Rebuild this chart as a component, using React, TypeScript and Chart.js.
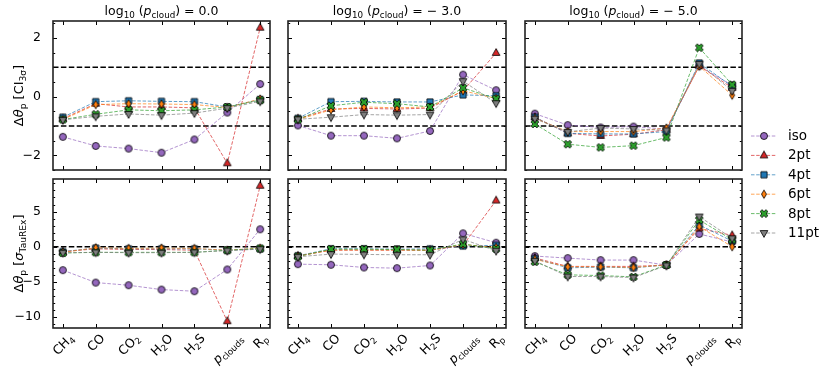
import React, { useEffect, useRef } from 'react';
import { Chart, registerables } from 'chart.js';

Chart.register(...registerables);

// ---------------- DATA ----------------
const categories = ['CH4', 'CO', 'CO2', 'H2O', 'H2S', 'p_clouds', 'R_p'];
const seriesNames = ['iso', '2pt', '4pt', '6pt', '8pt', '11pt'];
const cloudPressureLabels = ['0.0', '\u2212 3.0', '\u2212 5.0'];

// rows: iso, 2pt, 4pt, 6pt, 8pt, 11pt ; columns: categories
const ciCloud0 = [
  [-1.37, -1.68, -1.77, -1.91, -1.46, -0.54, 0.43],
  [-0.75, -0.24, -0.35, -0.35, -0.38, -2.27, 2.35],
  [-0.70, -0.17, -0.14, -0.16, -0.17, -0.35, -0.10],
  [-0.78, -0.27, -0.24, -0.25, -0.27, -0.37, -0.08],
  [-0.78, -0.60, -0.45, -0.48, -0.45, -0.35, -0.12],
  [-0.79, -0.67, -0.59, -0.63, -0.56, -0.39, -0.16],
];
const ciCloud3 = [
  [-0.98, -1.33, -1.33, -1.42, -1.17, 0.75, 0.22],
  [-0.75, -0.42, -0.40, -0.42, -0.39, 0.20, 1.49],
  [-0.74, -0.17, -0.16, -0.18, -0.18, 0.06, 0.03],
  [-0.78, -0.45, -0.35, -0.38, -0.35, 0.20, -0.06],
  [-0.78, -0.31, -0.19, -0.24, -0.35, 0.30, -0.07],
  [-0.77, -0.70, -0.61, -0.63, -0.61, 0.53, -0.22],
];
const ciCloud5 = [
  [-0.58, -0.97, -1.05, -1.02, -1.11, 1.04, 0.39],
  [-0.70, -1.25, -1.34, -1.28, -1.13, 1.05, 0.30],
  [-0.70, -1.25, -1.27, -1.27, -1.19, 1.15, 0.35],
  [-0.74, -1.19, -1.19, -1.19, -1.07, 1.04, 0.05],
  [-0.93, -1.62, -1.73, -1.67, -1.39, 1.67, 0.41],
  [-0.75, -1.20, -1.07, -1.10, -1.15, 1.12, 0.20],
];
const sigmaCloud0 = [
  [-3.33, -5.10, -5.48, -6.10, -6.33, -3.24, 2.48],
  [-0.70, -0.30, -0.40, -0.40, -0.50, -10.6, 8.67],
  [-0.70, -0.20, -0.30, -0.30, -0.30, -0.50, -0.30],
  [-0.80, -0.15, -0.25, -0.20, -0.25, -0.50, -0.20],
  [-0.90, -0.80, -0.80, -0.80, -0.80, -0.50, -0.25],
  [-0.85, -0.80, -0.85, -0.85, -0.80, -0.55, -0.35],
];
const sigmaCloud3 = [
  [-2.48, -2.57, -2.95, -3.05, -2.67, 1.90, 0.57],
  [-1.30, -0.50, -0.50, -0.50, -0.50, 0.20, 6.57],
  [-1.30, -0.30, -0.30, -0.35, -0.30, 0.10, 0.20],
  [-1.35, -0.45, -0.45, -0.45, -0.50, 0.30, -0.10],
  [-1.40, -0.35, -0.35, -0.40, -0.50, 0.40, -0.30],
  [-1.43, -1.05, -1.10, -1.14, -1.14, 1.05, -0.57],
];
const sigmaCloud5 = [
  [-1.33, -1.62, -1.90, -1.90, -2.62, 1.81, 0.67],
  [-1.60, -2.80, -2.80, -2.80, -2.60, 2.60, 1.62],
  [-1.70, -3.00, -2.90, -3.00, -2.60, 3.10, 0.80],
  [-1.80, -2.86, -2.86, -2.95, -2.60, 2.86, 0.00],
  [-2.14, -4.00, -4.10, -4.29, -2.60, 3.80, 1.00],
  [-2.00, -4.24, -4.24, -4.38, -2.67, 4.29, 1.20],
];

const ciTicks = [-2, 0, 2];
const sigmaTicks = [-10, -5, 0, 5];
const ciRefLines = [-1, 1];
const sigmaRefLines = [0];

// ---------------- STYLE ----------------
const W = 830;
const H = 372;
const FONT = "'DejaVu Sans', sans-serif";
const colLeft = [53, 288, 525];
const colRight = [270, 506, 742];
const rowTop = [21, 179];
const rowBottom = [170, 328];
const seriesColors = ['#9467bd', '#d62728', '#1f77b4', '#ff7f0e', '#2ca02c', '#7f7f7f'];
const seriesMarkers = ['circle', 'triangle', 'square', 'thinDiamond', 'filledX', 'triangleDown'];

type Seg = { t: string; sub?: boolean; it?: boolean };

function hexA(hex: string, a: number) {
  const n = parseInt(hex.slice(1), 16);
  return `rgba(${(n >> 16) & 255},${(n >> 8) & 255},${n & 255},${a})`;
}

function setFont(ctx: CanvasRenderingContext2D, size: number, it?: boolean) {
  ctx.font = `${it ? 'italic ' : ''}${size}px ${FONT}`;
}
function richWidth(ctx: CanvasRenderingContext2D, segs: Seg[], size: number) {
  let w = 0;
  for (const s of segs) {
    setFont(ctx, s.sub ? size * 0.7 : size, s.it);
    w += ctx.measureText(s.t).width;
  }
  return w;
}
function drawRich(ctx: CanvasRenderingContext2D, segs: Seg[], x: number, y: number, size: number) {
  let cx = x;
  ctx.textAlign = 'left';
  ctx.textBaseline = 'alphabetic';
  for (const s of segs) {
    const sz = s.sub ? size * 0.7 : size;
    setFont(ctx, sz, s.it);
    ctx.fillText(s.t, cx, s.sub ? y + size * 0.22 : y);
    cx += ctx.measureText(s.t).width;
  }
}
function labelSegs(lbl: string): Seg[] {
  if (lbl.includes('_')) {
    const [a, b] = lbl.split('_');
    return [{ t: a, it: a === 'p' }, { t: b, sub: true }];
  }
  const out: Seg[] = [];
  for (const ch of lbl) {
    const sub = /\d/.test(ch);
    const last = out[out.length - 1];
    if (last && !!last.sub === sub) last.t += ch;
    else out.push({ t: ch, sub });
  }
  return out;
}

function makeMarker(kind: string, color: string): HTMLCanvasElement {
  const c = document.createElement('canvas');
  c.width = 14;
  c.height = 14;
  const g = c.getContext('2d')!;
  g.translate(7, 7);
  g.fillStyle = color;
  g.strokeStyle = '#000';
  g.lineWidth = 0.8;
  g.lineJoin = 'miter';
  g.beginPath();
  if (kind === 'circle') {
    g.arc(0, 0, 3.5, 0, Math.PI * 2);
  } else if (kind === 'triangle' || kind === 'triangleDown') {
    const r = 4.4;
    const s = kind === 'triangle' ? 1 : -1;
    g.moveTo(0, -r * s);
    g.lineTo(r * 0.87, r * 0.55 * s);
    g.lineTo(-r * 0.87, r * 0.55 * s);
    g.closePath();
  } else if (kind === 'square') {
    g.rect(-3.1, -3.1, 6.2, 6.2);
  } else if (kind === 'thinDiamond') {
    g.moveTo(0, -4.2);
    g.lineTo(2.5, 0);
    g.lineTo(0, 4.2);
    g.lineTo(-2.5, 0);
    g.closePath();
  } else if (kind === 'filledX') {
    const a = 1.4;
    const r = 4.1;
    const pts = [
      [-a, -r], [a, -r], [a, -a], [r, -a], [r, a], [a, a],
      [a, r], [-a, r], [-a, a], [-r, a], [-r, -a], [-a, -a],
    ];
    const cs = Math.SQRT1_2;
    pts.forEach(([x, y], i) => {
      const rx = x * cs - y * cs;
      const ry = x * cs + y * cs;
      if (i === 0) g.moveTo(rx, ry);
      else g.lineTo(rx, ry);
    });
    g.closePath();
  }
  g.fill();
  g.stroke();
  return c;
}

const panelData = [
  [ciCloud0, ciCloud3, ciCloud5],
  [sigmaCloud0, sigmaCloud3, sigmaCloud5],
];
const yRanges = [
  [-2.5, 2.58],
  [-11.56, 9.63],
];
const yMajor = [ciTicks, sigmaTicks];
const yMinorStep = [0.5, 1];
const refLines = [ciRefLines, sigmaRefLines];
const yLabelSegs: Seg[][] = [
  [{ t: '\u0394' }, { t: '\u03b8', it: true }, { t: 'p', sub: true }, { t: ' [CI' }, { t: '3\u03c3', sub: true }, { t: ']' }],
  [{ t: '\u0394' }, { t: '\u03b8', it: true }, { t: 'p', sub: true }, { t: ' [' }, { t: '\u03c3', it: true }, { t: 'TauREx', sub: true }, { t: ']' }],
];

export default function App() {
  const refs = useRef<(HTMLCanvasElement | null)[]>([]);

  useEffect(() => {
    document.body.style.margin = '0';
    const markers = seriesColors.map((c, i) => makeMarker(seriesMarkers[i], c));
    const charts: Chart[] = [];

    for (let row = 0; row < 2; row++) {
      for (let col = 0; col < 3; col++) {
        const idx = row * 3 + col;
        const canvas = refs.current[idx];
        if (!canvas) continue;
        const data = panelData[row][col];
        const [ymin, ymax] = yRanges[row];

        const decor = {
          id: 'decor' + idx,
          beforeDatasetsDraw(chart: any) {
            const ctx: CanvasRenderingContext2D = chart.ctx;
            const a = chart.chartArea;
            const ys = chart.scales.y;
            ctx.save();
            ctx.strokeStyle = '#000';
            ctx.lineWidth = 1.5;
            ctx.setLineDash([5.5, 2.4]);
            for (const v of refLines[row]) {
              const py = ys.getPixelForValue(v);
              ctx.beginPath();
              ctx.moveTo(a.left, py);
              ctx.lineTo(a.right, py);
              ctx.stroke();
            }
            ctx.restore();
          },
          afterDraw(chart: any) {
            const ctx: CanvasRenderingContext2D = chart.ctx;
            const a = chart.chartArea;
            const xs = chart.scales.x;
            const ys = chart.scales.y;
            ctx.save();
            // ticks (inward, all sides)
            ctx.strokeStyle = '#000';
            ctx.lineWidth = 1;
            ctx.setLineDash([]);
            ctx.beginPath();
            for (let i = 0; i < categories.length; i++) {
              const px = Math.round(xs.getPixelForValue(i)) + 0.5;
              ctx.moveTo(px, a.bottom);
              ctx.lineTo(px, a.bottom - 4);
              ctx.moveTo(px, a.top);
              ctx.lineTo(px, a.top + 4);
            }
            const majors = yMajor[row];
            for (const v of majors) {
              const py = Math.round(ys.getPixelForValue(v)) + 0.5;
              ctx.moveTo(a.left, py);
              ctx.lineTo(a.left + 4, py);
              ctx.moveTo(a.right, py);
              ctx.lineTo(a.right - 4, py);
            }
            const st = yMinorStep[row];
            for (let k = Math.ceil(ymin / st); k * st <= ymax; k++) {
              const v = k * st;
              if (majors.some((m) => Math.abs(m - v) < 1e-9)) continue;
              const py = Math.round(ys.getPixelForValue(v)) + 0.5;
              ctx.moveTo(a.left, py);
              ctx.lineTo(a.left + 2.2, py);
              ctx.moveTo(a.right, py);
              ctx.lineTo(a.right - 2.2, py);
            }
            ctx.stroke();
            // frame
            ctx.lineWidth = 1.6;
            ctx.strokeStyle = '#222';
            ctx.strokeRect(a.left, a.top, a.right - a.left, a.bottom - a.top);

            ctx.fillStyle = '#000';
            // title
            if (row === 0) {
              const segs: Seg[] = [
                { t: 'log' }, { t: '10', sub: true }, { t: ' (' }, { t: 'p', it: true },
                { t: 'cloud', sub: true }, { t: ') = ' + cloudPressureLabels[col] },
              ];
              const size = 12.5;
              const w = richWidth(ctx, segs, size);
              drawRich(ctx, segs, (a.left + a.right) / 2 - w / 2, 15, size);
            }
            // x tick labels
            if (row === 1) {
              const size = 12.5;
              for (let i = 0; i < categories.length; i++) {
                const segs = labelSegs(categories[i]);
                const w = richWidth(ctx, segs, size);
                const h = size * 0.85;
                const bb = (w + h) / Math.SQRT2;
                const cx = xs.getPixelForValue(i);
                const cy = a.bottom + 4 + bb / 2;
                ctx.save();
                ctx.translate(cx, cy);
                ctx.rotate(-Math.PI / 4);
                drawRich(ctx, segs, -w / 2, size * 0.36, size);
                ctx.restore();
              }
            }
            // y label
            if (col === 0) {
              const size = 13;
              const segs = yLabelSegs[row];
              const w = richWidth(ctx, segs, size);
              ctx.save();
              ctx.translate(18, (a.top + a.bottom) / 2);
              ctx.rotate(-Math.PI / 2);
              drawRich(ctx, segs, -w / 2, size * 0.36, size);
              ctx.restore();
            }
            // legend
            if (idx === 0) {
              const size = 13.5;
              for (let i = 0; i < seriesNames.length; i++) {
                const y = 136 + i * 19.4;
                ctx.strokeStyle = hexA(seriesColors[i], 0.7);
                ctx.lineWidth = 1;
                ctx.setLineDash([3.5, 1.7]);
                ctx.beginPath();
                ctx.moveTo(751, y);
                ctx.lineTo(777, y);
                ctx.stroke();
                ctx.setLineDash([]);
                const m = markers[i];
                ctx.drawImage(m, 764 - m.width / 2, y - m.height / 2);
                setFont(ctx, size);
                ctx.fillStyle = '#000';
                ctx.textAlign = 'left';
                ctx.textBaseline = 'middle';
                ctx.fillText(seriesNames[i], 788, y + 0.5);
              }
            }
            ctx.restore();
          },
        };

        const chart = new Chart(canvas, {
          type: 'line',
          data: {
            datasets: data.map((vals, s) => ({
              label: seriesNames[s],
              data: vals.map((y, i) => ({ x: i, y })),
              borderColor: hexA(seriesColors[s], 0.7),
              backgroundColor: seriesColors[s],
              borderWidth: 1,
              borderDash: [3.5, 1.7],
              pointStyle: markers[s] as any,
              pointRadius: 4,
              fill: false,
              tension: 0,
              order: 6 - s,
              clip: 6,
            })),
          },
          options: {
            animation: false,
            responsive: false,
            maintainAspectRatio: false,
            devicePixelRatio: 1,
            events: [],
            layout: {
              padding: {
                left: col === 0 ? 0 : colLeft[col],
                right: W - colRight[col],
                top: rowTop[row],
                bottom: H - rowBottom[row],
              },
            },
            plugins: {
              legend: { display: false },
              tooltip: { enabled: false },
              title: { display: false },
            },
            scales: {
              x: { type: 'linear', min: -0.3, max: 6.3, display: false },
              y: {
                type: 'linear',
                min: ymin,
                max: ymax,
                display: col === 0,
                afterFit: (s: any) => {
                  s.width = col === 0 ? colLeft[0] : 0;
                },
                afterBuildTicks: (s: any) => {
                  s.ticks = yMajor[row].map((v) => ({ value: v }));
                },
                grid: { display: false },
                border: { display: false },
                ticks: {
                  padding: 4,
                  color: '#000',
                  font: { family: FONT, size: 12.5 },
                  callback: (v: any) => String(v).replace('-', '\u2212'),
                },
              },
            },
          } as any,
          plugins: [decor],
        });
        charts.push(chart);
      }
    }
    return () => charts.forEach((c) => c.destroy());
  }, []);

  return (
    <div style={{ position: 'relative', width: W, height: H, background: '#fff' }}>
      {[0, 1, 2, 3, 4, 5].map((i) => (
        <canvas
          key={i}
          ref={(el) => {
            refs.current[i] = el;
          }}
          width={W}
          height={H}
          style={{ position: 'absolute', left: 0, top: 0 }}
        />
      ))}
    </div>
  );
}
